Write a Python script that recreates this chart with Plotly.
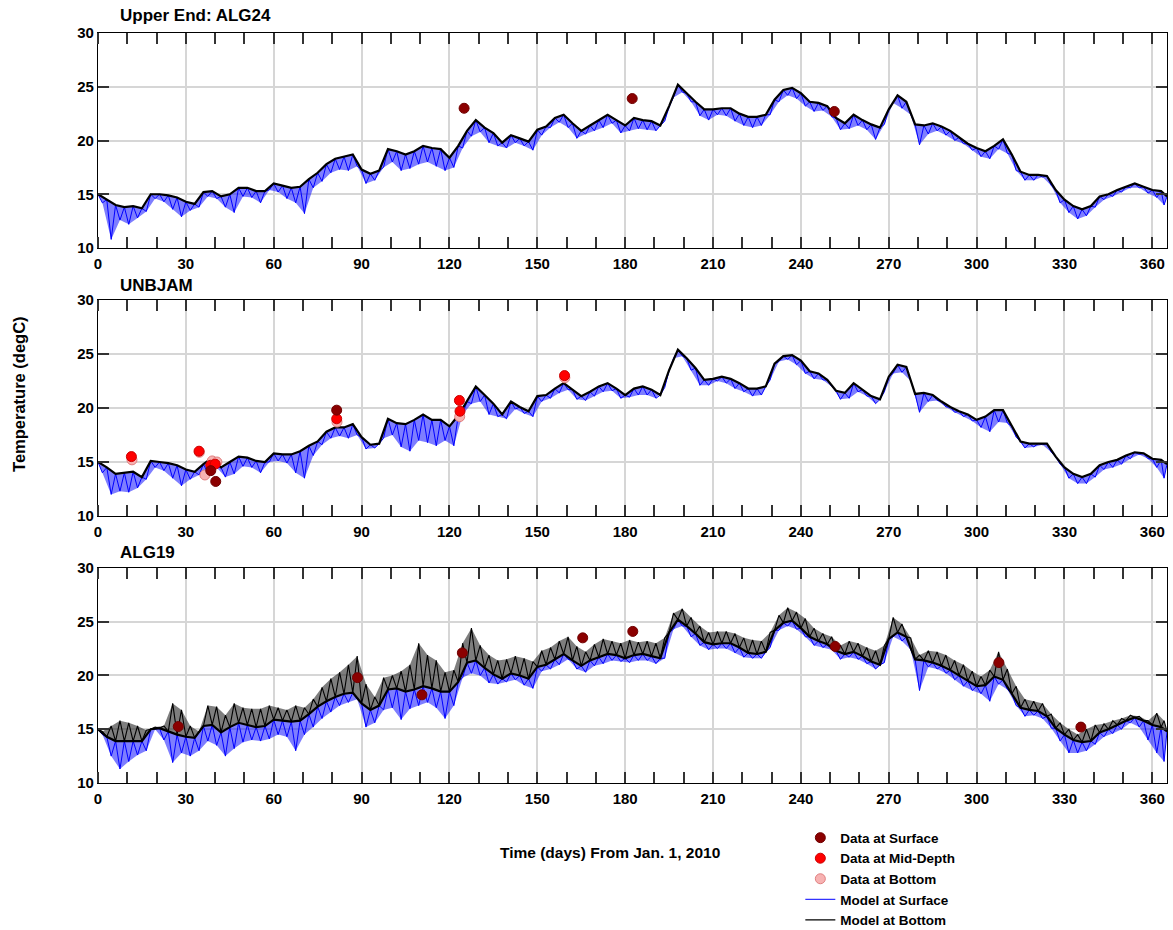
import plotly.graph_objects as go

# ---------------- data ----------------
days = [0, 3, 6, 9, 12, 15, 18, 21, 24, 27,
        30, 33, 36, 39, 42, 45, 48, 51, 54, 57,
        60, 63, 66, 69, 72, 75, 78, 81, 84, 87,
        90, 93, 96, 99, 102, 105, 108, 111, 114, 117,
        120, 123, 126, 129, 132, 135, 138, 141, 144, 147,
        150, 153, 156, 159, 162, 165, 168, 171, 174, 177,
        180, 183, 186, 189, 192, 195, 198, 201, 204, 207,
        210, 213, 216, 219, 222, 225, 228, 231, 234, 237,
        240, 243, 246, 249, 252, 255, 258, 261, 264, 267,
        270, 273, 276, 279, 282, 285, 288, 291, 294, 297,
        300, 303, 306, 309, 312, 315, 318, 321, 324, 327,
        330, 333, 336, 339, 342, 345, 348, 351, 354, 357,
        360, 363, 365]

# ALG24 (Upper End)
alg24_bottom = [15.0, 14.5, 14.0, 13.8, 13.9, 13.7, 15.0, 15.0, 14.9, 14.7,
                14.3, 14.1, 15.2, 15.3, 14.8, 15.0, 15.6, 15.6, 15.3, 15.3,
                16.0, 15.8, 15.6, 15.7, 16.4, 17.0, 17.8, 18.3, 18.5, 18.7,
                17.3, 16.9, 17.2, 19.2, 19.0, 18.7, 19.0, 19.5, 19.3, 19.2,
                18.4, 19.5, 20.9, 21.9, 21.2, 20.7, 19.8, 20.5, 20.2, 19.9,
                21.0, 21.3, 22.1, 22.4, 21.6, 20.9, 21.4, 21.9, 22.4, 21.9,
                21.4, 22.1, 21.9, 21.8, 21.4, 23.2, 25.2, 24.4, 23.6, 22.9,
                22.9, 23.0, 23.0, 22.5, 22.2, 22.2, 22.4, 23.8, 24.7, 24.9,
                24.4, 23.6, 23.5, 23.2, 22.1, 21.6, 22.4, 21.9, 21.5, 21.2,
                22.9, 24.2, 23.6, 21.5, 21.4, 21.6, 21.3, 20.9, 20.3, 19.7,
                19.3, 19.0, 19.5, 20.1, 18.7, 17.1, 16.8, 16.8, 16.7, 15.4,
                14.5, 13.9, 13.6, 13.9, 14.8, 15.0, 15.4, 15.7, 16.0, 15.7,
                15.4, 15.3, 14.8]
alg24_surface_low = [14.2, 10.8, 12.6, 12.2, 12.8, 13.4, 14.6, 14.3, 13.6, 12.9,
                     13.5, 13.8, 14.8, 14.6, 13.8, 13.3, 14.8, 14.7, 14.2, 15.4,
                     15.2, 14.6, 14.2, 13.2, 15.6, 16.2, 17.0, 17.3, 17.2, 17.6,
                     16.0, 16.3, 17.5, 18.0, 17.2, 17.4, 17.8, 18.0, 17.6, 17.2,
                     17.5, 19.3, 20.4, 20.8, 19.8, 19.5, 19.3, 19.8, 19.5, 19.1,
                     20.5, 21.2, 21.7, 21.2, 20.2, 20.6, 20.9, 21.2, 21.6, 20.7,
                     20.9, 21.1, 21.0, 20.9, 21.8, 24.0, 24.5, 23.6, 22.3, 21.9,
                     22.4, 22.3, 21.8, 21.4, 21.2, 21.4, 22.4, 23.6, 24.2, 23.9,
                     23.2, 22.7, 22.8, 22.2, 21.0, 21.1, 21.4, 21.0, 20.1, 21.5,
                     23.5, 23.0, 22.4, 19.6, 20.6, 20.9, 20.5, 20.0, 19.7, 19.1,
                     18.5, 18.3, 19.2, 18.8, 17.2, 16.3, 16.3, 16.6, 15.8, 14.2,
                     13.3, 12.7, 13.0, 13.8, 14.5, 14.8, 15.2, 15.6, 15.6, 15.1,
                     14.7, 14.0]

# UNBJAM
unbjam_bottom = [15.0, 14.5, 13.9, 14.0, 14.1, 13.6, 15.1, 15.0, 14.9, 14.7,
                 14.3, 14.1, 14.8, 15.4, 14.5, 15.0, 15.5, 15.4, 15.1, 15.0,
                 15.8, 15.7, 15.7, 16.0, 16.5, 16.9, 17.8, 18.2, 18.2, 18.5,
                 17.3, 16.6, 16.7, 19.0, 18.6, 18.5, 18.9, 19.4, 18.9, 18.9,
                 18.3, 19.3, 20.6, 22.0, 21.2, 20.4, 19.4, 20.6, 20.1, 19.7,
                 21.1, 21.2, 21.8, 22.3, 21.7, 21.1, 21.5, 22.0, 22.3, 21.8,
                 21.2, 21.8, 22.0, 21.7, 21.2, 23.5, 25.4, 24.6, 23.7, 22.6,
                 22.7, 22.9, 22.7, 22.3, 21.8, 21.8, 22.0, 24.1, 24.8, 24.9,
                 24.4, 23.4, 23.2, 22.6, 21.6, 21.4, 22.3, 21.7, 21.1, 20.8,
                 22.9, 24.0, 23.8, 21.3, 21.4, 21.2, 20.6, 20.1, 19.7, 19.4,
                 18.9, 19.2, 19.8, 19.8, 18.3, 16.9, 16.7, 16.7, 16.7, 15.5,
                 14.5, 13.9, 13.6, 13.9, 14.7, 15.0, 15.2, 15.6, 15.9, 15.8,
                 15.3, 15.2, 14.8]
unbjam_surface_low = [14.0, 12.0, 12.3, 12.2, 12.6, 13.4, 14.5, 14.2, 13.5, 12.8,
                      13.4, 13.8, 14.0, 14.5, 13.6, 13.9, 14.6, 14.5, 14.0, 15.0,
                      15.1, 14.9, 14.0, 13.5, 15.6, 16.6, 17.2, 17.4, 17.2, 17.5,
                      16.2, 16.3, 17.2, 17.5, 16.4, 16.0, 17.0, 16.8, 16.5, 17.0,
                      16.5, 19.4, 20.4, 20.6, 19.4, 19.2, 19.0, 19.9, 19.5, 19.2,
                      20.6, 20.9, 21.4, 21.7, 20.8, 20.7, 21.1, 21.5, 21.6, 20.9,
                      21.0, 21.2, 21.2, 20.9, 21.9, 24.6, 24.8, 23.5, 22.1, 22.1,
                      22.5, 22.3, 21.8, 21.5, 21.1, 21.2, 22.6, 24.3, 24.5, 24.0,
                      23.2, 22.7, 22.6, 22.0, 20.8, 20.9, 21.5, 21.1, 20.4, 21.5,
                      23.2, 23.3, 22.5, 19.6, 20.6, 20.7, 20.1, 19.6, 19.2, 18.8,
                      18.2, 17.8, 18.7, 18.6, 17.3, 16.3, 16.4, 16.6, 15.9, 14.8,
                      13.5, 13.0, 13.0, 13.6, 14.3, 14.5, 14.8, 15.3, 15.7, 15.3,
                      14.5, 13.5]

# ALG19
alg19_bottom = [15.0, 14.3, 13.9, 13.9, 13.9, 13.9, 15.0, 15.1, 14.8, 14.5,
                14.3, 14.2, 15.3, 15.4, 14.7, 15.2, 15.6, 15.4, 15.2, 15.3,
                15.9, 15.8, 15.7, 15.8, 16.4, 17.1, 17.6, 18.0, 18.3, 18.4,
                17.4, 16.8, 17.2, 18.7, 18.8, 18.5, 18.7, 19.0, 18.8, 18.5,
                18.5, 19.4, 21.2, 21.4, 20.7, 20.1, 19.7, 20.2, 20.0, 19.7,
                20.8, 21.0, 21.5, 22.0, 21.4, 20.9, 21.4, 21.7, 22.0, 21.9,
                21.6, 21.9, 22.0, 21.8, 21.6, 24.0, 25.2, 24.6, 23.9, 23.1,
                22.9, 23.0, 23.0, 22.6, 22.1, 22.0, 22.2, 24.2, 24.9, 25.1,
                24.4, 23.6, 23.2, 22.9, 22.3, 22.0, 22.2, 21.8, 21.3, 21.0,
                23.4, 24.0, 23.6, 21.5, 21.4, 21.2, 20.9, 20.5, 20.0, 19.5,
                19.0, 19.1, 19.9, 19.6, 18.3, 17.0, 16.8, 16.7, 16.2, 15.1,
                14.5, 14.0, 13.8, 13.9, 14.7, 15.0, 15.4, 15.8, 16.1, 15.8,
                15.4, 15.2, 14.8]
alg19_bottom_high = [14.8, 15.3, 15.8, 15.6, 15.3, 14.9, 15.2, 15.3, 17.4, 16.8,
                     15.3, 14.8, 17.2, 17.1, 16.3, 17.4, 17.0, 16.9, 16.9, 17.2,
                     17.0, 16.8, 17.2, 17.0, 17.8, 18.9, 19.7, 20.3, 21.0, 21.8,
                     19.2, 18.0, 19.8, 20.0, 20.4, 21.0, 23.0, 21.9, 21.4, 20.3,
                     20.5, 23.0, 24.4, 22.8, 21.9, 21.4, 21.5, 21.8, 21.6, 21.3,
                     22.3, 22.6, 23.2, 23.6, 22.7, 22.2, 22.9, 23.4, 23.2, 23.0,
                     23.3, 23.1, 23.2, 23.0, 23.5, 25.8, 26.2, 25.4, 24.6, 24.0,
                     24.1, 24.1, 23.9, 23.5, 23.3, 23.2, 24.0, 25.6, 26.3, 25.9,
                     25.3, 24.4, 23.9, 23.6, 22.8, 23.2, 23.0, 22.6, 22.3, 22.8,
                     25.4, 24.8, 23.5, 21.9, 22.3, 22.2, 21.9, 21.4, 21.0, 20.4,
                     19.9, 20.5, 22.2, 20.6, 19.0, 17.8, 17.6, 17.4, 16.4, 15.6,
                     15.0, 14.5, 15.0, 15.4, 15.5, 15.8, 16.0, 16.3, 16.2, 15.8,
                     16.5, 15.8]
alg19_surface_low = [14.5, 12.5, 11.3, 12.0, 12.6, 13.0, 15.0, 14.0, 11.9, 12.8,
                     12.5, 13.0, 13.9, 13.5, 12.5, 13.2, 13.8, 14.0, 13.9, 14.1,
                     14.5, 14.3, 13.0, 14.5, 15.2, 16.0, 16.6, 17.2, 17.5, 17.8,
                     15.2, 15.6, 16.8, 17.0, 15.9, 16.9, 17.2, 17.5, 17.0, 16.0,
                     17.2, 19.8, 20.2, 20.0, 19.3, 19.2, 19.4, 19.6, 19.1, 18.8,
                     20.4, 20.6, 21.0, 21.5, 20.6, 20.3, 20.9, 21.1, 21.4, 21.3,
                     21.2, 21.4, 21.4, 21.1, 21.6, 24.3, 24.6, 23.6, 22.8, 22.4,
                     22.5, 22.5, 22.1, 21.7, 21.6, 21.6, 22.6, 24.2, 24.6, 24.3,
                     23.6, 22.8, 22.6, 22.4, 21.5, 21.7, 21.5, 21.1, 20.6, 21.2,
                     23.6, 23.2, 22.4, 18.6, 20.8, 20.6, 20.2, 19.6, 19.0, 18.6,
                     18.3, 17.6, 19.2, 18.7, 17.2, 16.2, 16.3, 16.0, 15.1, 13.9,
                     12.8, 12.8, 13.0, 13.6, 14.3, 14.6, 15.0, 15.6, 15.2, 14.0,
                     12.8, 12.0]

# observations
alg24_obs_surf_day = [125.0, 182.4, 251.4]
alg24_obs_surf_val = [23.0, 23.9, 22.7]

unbjam_obs_surf_day = [38.5, 40.2, 81.5]
unbjam_obs_surf_val = [14.2, 13.2, 19.8]
unbjam_obs_mid_day = [11.4, 34.5, 38.5, 40.0, 81.5, 123.4, 123.6, 159.3]
unbjam_obs_mid_val = [15.5, 16.0, 14.7, 14.8, 19.0, 20.7, 19.7, 23.0]
unbjam_obs_bot_day = [11.6, 34.6, 36.5, 39.0, 40.6, 81.6, 123.5, 159.4]
unbjam_obs_bot_val = [15.2, 15.9, 13.8, 15.1, 15.0, 18.7, 19.2, 22.8]

alg19_obs_surf_day = [27.4, 88.6, 110.6, 124.4, 165.5, 182.6, 251.7, 307.6, 335.6]
alg19_obs_surf_val = [15.25, 19.8, 18.2, 22.1, 23.5, 24.1, 22.7, 21.2, 15.2]

panel_titles = ["Upper End: ALG24", "UNBJAM", "ALG19"]
x_ticks = [0, 30, 60, 90, 120, 150, 180, 210, 240, 270, 300, 330, 360]
y_ticks = [10, 15, 20, 25, 30]

# ---------------- figure ----------------
def midpoints(grid):
    return [(grid[i] + grid[i + 1]) / 2 for i in range(len(grid) - 1)]


def weave(grid, base, extra):
    mids = midpoints(grid)
    xs, ys = [], []
    for i in range(len(grid)):
        xs.append(grid[i]); ys.append(base[i])
        if i < len(extra):
            xs.append(mids[i]); ys.append(extra[i])
    return xs, ys


def band(grid, base, extra):
    mids = midpoints(grid)
    return list(grid) + mids[::-1], list(base) + list(extra)[::-1]


FONT = "Liberation Sans, Arial, Helvetica, sans-serif"
DARKRED = "#8b0000"
RED = "#ff0000"
PINK = "#f7b2b2"

fig = go.Figure()

panels = [
    dict(bottom=alg24_bottom, low=alg24_surface_low, high=None,
         surf=(alg24_obs_surf_day, alg24_obs_surf_val), mid=None, bot=None),
    dict(bottom=unbjam_bottom, low=unbjam_surface_low, high=None,
         surf=(unbjam_obs_surf_day, unbjam_obs_surf_val),
         mid=(unbjam_obs_mid_day, unbjam_obs_mid_val),
         bot=(unbjam_obs_bot_day, unbjam_obs_bot_val)),
    dict(bottom=alg19_bottom, low=alg19_surface_low, high=alg19_bottom_high,
         surf=(alg19_obs_surf_day, alg19_obs_surf_val), mid=None, bot=None),
]

for k, p in enumerate(panels):
    ax = "" if k == 0 else str(k + 1)
    xa, ya = "x" + ax, "y" + ax
    # surface model: oscillation band + line
    fx, fy = band(days, p["bottom"], p["low"])
    fig.add_trace(go.Scatter(x=fx, y=fy, mode="lines", fill="toself", xaxis=xa, yaxis=ya,
                             fillcolor="rgba(20,20,255,0.55)", line=dict(width=0),
                             hoverinfo="skip", showlegend=False))
    bx, by = weave(days, p["bottom"], p["low"])
    fig.add_trace(go.Scatter(x=bx, y=by, mode="lines", xaxis=xa, yaxis=ya,
                             line=dict(color="#0000ff", width=1),
                             name="Model at Surface", legendrank=4,
                             showlegend=(k == 0)))
    if p["high"] is not None:
        hx, hy = band(days, p["bottom"], p["high"])
        fig.add_trace(go.Scatter(x=hx, y=hy, mode="lines", fill="toself", xaxis=xa, yaxis=ya,
                                 fillcolor="rgba(40,40,40,0.6)", line=dict(width=0),
                                 hoverinfo="skip", showlegend=False))
        kx, ky = weave(days, p["bottom"], p["high"])
        kw = 1.1
    else:
        kx, ky = days, p["bottom"]
        kw = 2.2
    fig.add_trace(go.Scatter(x=kx, y=ky, mode="lines", xaxis=xa, yaxis=ya,
                             line=dict(color="black", width=kw),
                             name="Model at Bottom", legendrank=5,
                             showlegend=False))
    if p["high"] is not None:
        fig.add_trace(go.Scatter(x=days, y=p["bottom"], mode="lines", xaxis=xa, yaxis=ya,
                                 line=dict(color="black", width=2.2),
                                 hoverinfo="skip", showlegend=False))
    if k == 0:
        fig.add_trace(go.Scatter(x=[None], y=[None], mode="lines", xaxis=xa, yaxis=ya,
                                 line=dict(color="black", width=1.1),
                                 name="Model at Bottom", legendrank=5, showlegend=True))
    if p["bot"] is not None:
        fig.add_trace(go.Scatter(x=p["bot"][0], y=p["bot"][1], mode="markers",
                                 xaxis=xa, yaxis=ya, name="Data at Bottom", legendrank=3,
                                 marker=dict(color=PINK, size=10, line=dict(color="#e08080", width=1)),
                                 showlegend=True))
    if p["mid"] is not None:
        fig.add_trace(go.Scatter(x=p["mid"][0], y=p["mid"][1], mode="markers",
                                 xaxis=xa, yaxis=ya, name="Data at Mid-Depth", legendrank=2,
                                 marker=dict(color=RED, size=10, line=dict(color="#cc0000", width=1)),
                                 showlegend=True))
    fig.add_trace(go.Scatter(x=p["surf"][0], y=p["surf"][1], mode="markers",
                             xaxis=xa, yaxis=ya, name="Data at Surface", legendrank=1,
                             marker=dict(color=DARKRED, size=10, line=dict(color="#700000", width=1)),
                             showlegend=(k == 0)))

domains = [[0.7133, 1.0], [0.356, 0.644], [0.0, 0.2867]]
tickfont = dict(family=FONT, size=15, color="black", weight="bold")
layout = dict(
    width=1173, height=930, autosize=False,
    margin=dict(l=98, r=6, t=33, b=147, autoexpand=False),
    paper_bgcolor="white", plot_bgcolor="white",
    showlegend=True,
    legend=dict(x=0.657, y=-0.0525, xanchor="left", yanchor="top",
                bgcolor="rgba(0,0,0,0)", font=dict(family=FONT, size=13.5, color="black", weight="bold"),
                traceorder="normal"),
)
for k in range(3):
    ax = "" if k == 0 else str(k + 1)
    layout["xaxis" + ax] = dict(
        domain=[0, 1], anchor="y" + ax, range=[0, 365],
        tickvals=x_ticks, ticks="", showgrid=True, gridcolor="#d6d6d6", gridwidth=1.5,
        showline=True, linecolor="black", linewidth=1.3, mirror="ticks",
        minor=dict(dtick=10, tick0=0, ticks="inside", ticklen=11, tickwidth=1.5,
                   tickcolor="#333333", showgrid=False),
        tickfont=tickfont, zeroline=False, ticklabelstandoff=2,
    )
    layout["yaxis" + ax] = dict(
        domain=domains[k], anchor="x" + ax, range=[10, 30],
        tickvals=y_ticks, ticks="inside", ticklen=11, tickwidth=1.5, tickcolor="#333333",
        showgrid=True, gridcolor="#d6d6d6", gridwidth=1.5,
        showline=True, linecolor="black", linewidth=1.3, mirror="ticks",
        tickfont=tickfont, zeroline=False,
    )
fig.update_layout(**layout)

title_y = [1.0233, 0.664, 0.308]
for k in range(3):
    fig.add_annotation(text=panel_titles[k], xref="paper", yref="paper",
                       x=0.0187, y=title_y[k], xanchor="left", yanchor="middle",
                       showarrow=False, font=dict(family=FONT, size=17, color="black", weight="bold"))

fig.add_annotation(text="Temperature (degC)", xref="paper", yref="paper",
                   x=-0.0739, y=0.5187, xanchor="center", yanchor="middle", textangle=-90,
                   showarrow=False, font=dict(family=FONT, size=16.5, color="black", weight="bold"))
fig.add_annotation(text="Time (days) From Jan. 1, 2010", xref="paper", yref="paper",
                   x=0.479, y=-0.0933, xanchor="center", yanchor="middle",
                   showarrow=False, font=dict(family=FONT, size=15.5, color="black", weight="bold"))

fig.write_html("out.html")
